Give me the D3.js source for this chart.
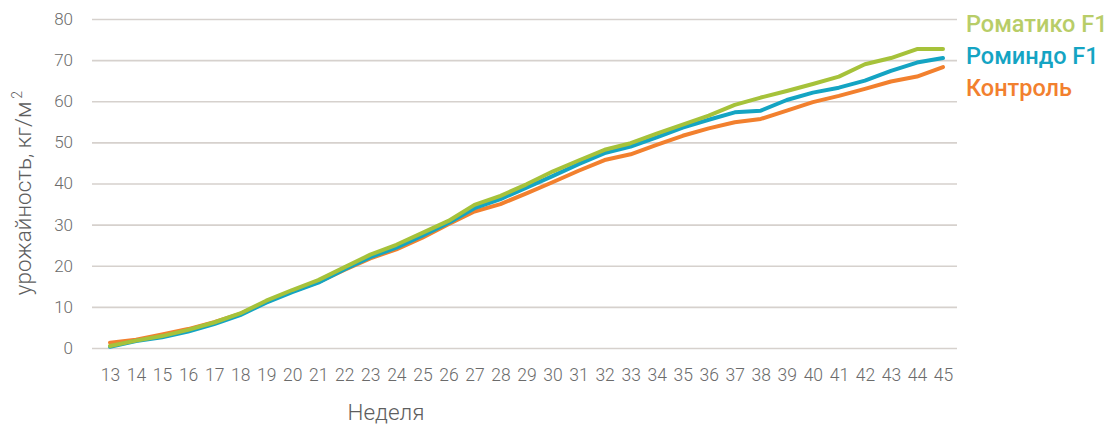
<!DOCTYPE html>
<html>
<head>
<meta charset="utf-8">
<script src="https://cdn.jsdelivr.net/npm/d3@7"></script>
<style>
	body { margin: 0; background: #fff; }
	text { font-family: Roboto, "Liberation Sans", sans-serif; }
</style>
</head>
<body>
<svg id="chart" width="1112" height="425"></svg>
<script>
// weeks on the x axis
const weeks = d3.range(13, 46);
// yield, kg/m2
const romatiko = [0.5, 1.8, 2.9, 4.4, 6.2, 8.4, 11.5, 14.1, 16.5, 19.6, 22.7, 25.1, 28.0, 30.9, 34.8, 37.0, 39.8, 42.9, 45.6, 48.2, 49.8, 52.1, 54.3, 56.5, 59.1, 60.9, 62.5, 64.2, 66.0, 69.0, 70.5, 72.7, 72.7];
const romindo = [0.3, 1.7, 2.6, 4.0, 5.8, 8.0, 11.0, 13.6, 15.9, 19.1, 22.1, 24.4, 27.3, 30.4, 34.0, 36.2, 39.0, 41.8, 44.7, 47.4, 49.0, 51.2, 53.6, 55.5, 57.3, 57.7, 60.3, 62.1, 63.3, 65.0, 67.4, 69.4, 70.5];
const kontrol = [1.3, 2.0, 3.3, 4.6, 6.3, 8.3, 11.2, 13.8, 16.0, 19.0, 21.8, 24.0, 26.8, 30.1, 33.2, 35.0, 37.6, 40.3, 43.1, 45.7, 47.1, 49.4, 51.6, 53.4, 54.9, 55.7, 57.7, 59.8, 61.3, 63.0, 64.8, 66.0, 68.3];
const yTicks = [0, 10, 20, 30, 40, 50, 60, 70, 80];

const seriesNames = ["Роматико F1", "Роминдо F1", "Контроль"];
const lineColors = ["#a6c23a", "#14a4c3", "#f2802e"];
const labelColors = ["#b8cd68", "#14a4c3", "#f2802e"];

const svg = d3.select("#chart");

let x = d3.scalePoint().domain(weeks).range([110, 943]);
let y = d3.scaleLinear().domain([0, 80]).range([348, 19]);

// gridlines + y labels
let yAxis = svg.append("g")
	.attr("transform", "translate(92,0)")
	.call(d3.axisLeft(y).tickValues(yTicks).tickSize(-865).tickPadding(19));
yAxis.select(".domain").remove();
yAxis.selectAll(".tick line").attr("stroke", "#d6d1cd").attr("stroke-width", 1.6);
yAxis.selectAll(".tick text")
	.attr("fill", "#6b6b6b")
	.style("font-size", "17px")
	.style("font-weight", 300);

// x labels
let xAxis = svg.append("g")
	.attr("transform", "translate(0,348)")
	.call(d3.axisBottom(x).tickSize(0).tickPadding(21));
xAxis.select(".domain").remove();
xAxis.selectAll(".tick text")
	.attr("fill", "#6b6b6b")
	.style("font-size", "17.5px")
	.style("font-weight", 300);

// lines, control first so green ends up on top
let data = [kontrol, romindo, romatiko];
let colors = [lineColors[2], lineColors[1], lineColors[0]];
let line = d3.line()
	.x((d, i) => x(weeks[i]))
	.y((d) => y(d));

svg.append("g")
	.selectAll("path")
	.data(data)
	.join("path")
	.attr("d", line)
	.attr("fill", "none")
	.attr("stroke", (d, i) => colors[i])
	.attr("stroke-width", 4)
	.attr("stroke-linejoin", "round")
	.attr("stroke-linecap", "round");

// legend
svg.append("g")
	.selectAll("text")
	.data(seriesNames)
	.join("text")
	.attr("x", 966)
	.attr("y", (d, i) => 32 + i * 32)
	.attr("fill", (d, i) => labelColors[i])
	.style("font-size", "23.5px")
	.style("font-weight", 500)
	.text((d) => d);

// axis titles
let yTitle = svg.append("text")
	.attr("transform", "translate(31,193) rotate(-90)")
	.attr("text-anchor", "middle")
	.attr("fill", "#5e5e5e")
	.style("font-size", "22.5px")
	.style("font-weight", 300);
yTitle.append("tspan").text("урожайность, кг/м");
yTitle.append("tspan").attr("dx", 3).attr("dy", -9).style("font-size", "14px").text("2");

svg.append("text")
	.attr("x", 386)
	.attr("y", 420)
	.attr("text-anchor", "middle")
	.attr("fill", "#5e5e5e")
	.style("font-size", "22.5px")
	.style("font-weight", 300)
	.text("Неделя");
</script>
</body>
</html>
